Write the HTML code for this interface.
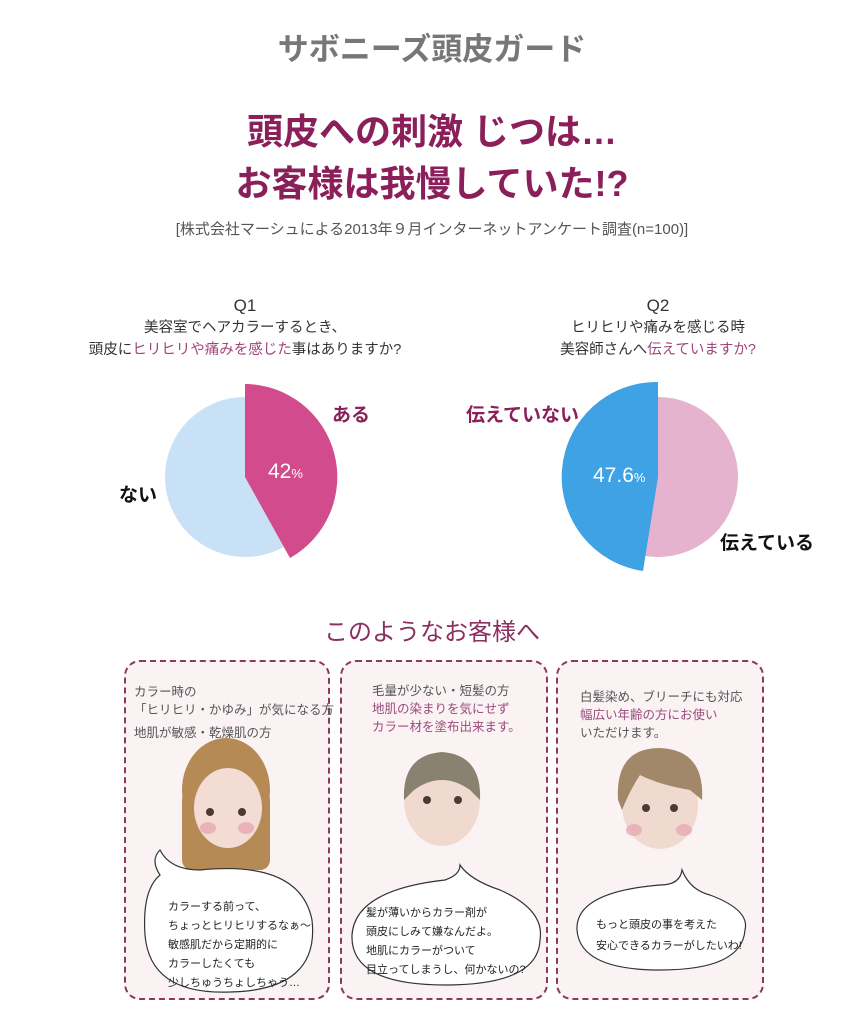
<!DOCTYPE html>
<html><head><meta charset="utf-8"><style>
body{margin:0;width:864px;height:1024px;background:#fff;position:relative;overflow:hidden;font-family:"Liberation Sans","Noto Sans CJK JP",sans-serif;}
.t{position:absolute;white-space:nowrap;}
.c{left:0;width:864px;text-align:center;}
.m{color:#8a1f5a}
.card{position:absolute;top:660px;height:340px;background:#fbf2f4;border:2px dashed #8a3a5e;border-radius:16px;box-sizing:border-box;}
.ct{position:absolute;font-size:12.5px;line-height:19px;color:#555;}
.hb{position:absolute;font-size:12px;line-height:23px;color:#222;font-family:"Liberation Sans","WenQuanYi Zen Hei",sans-serif;}
</style></head><body>
<div class="card" style="left:124px;width:206px"></div>
<div class="card" style="left:340px;width:208px"></div>
<div class="card" style="left:556px;width:208px"></div>

<div class="t c" style="top:24px;font-size:31px;font-weight:bold;color:#777">サボニーズ頭皮ガード</div>
<div class="t c m" style="top:106px;font-size:36px;font-weight:bold;line-height:52px">頭皮への刺激 じつは…<br>お客様は我慢していた!?</div>
<div class="t c" style="top:218px;font-size:15px;color:#555">[株式会社マーシュによる2013年９月インターネットアンケート調査(n=100)]</div>

<div class="t" style="left:145px;width:200px;text-align:center;top:296px;font-size:17px;color:#333">Q1</div>
<div class="t" style="left:45px;width:400px;text-align:center;top:317px;font-size:14.5px;line-height:22px;color:#333">美容室でヘアカラーするとき、<br>頭皮に<span style="color:#a0457a">ヒリヒリや痛みを感じた</span>事はありますか?</div>
<div class="t" style="left:558px;width:200px;text-align:center;top:296px;font-size:17px;color:#333">Q2</div>
<div class="t" style="left:458px;width:400px;text-align:center;top:317px;font-size:14.5px;line-height:22px;color:#333">ヒリヒリや痛みを感じる時<br>美容師さんへ<span style="color:#a0457a">伝えていますか?</span></div>

<svg width="864" height="1024" style="position:absolute;left:0;top:0">
<circle cx="245" cy="477" r="80" fill="#c9e1f6"/>
<path d="M245,477 L245,384 A93,93 0 0 1 290,558 Z" fill="#d24b8d"/>
<circle cx="658" cy="477" r="80" fill="#e5b3cd"/>
<path d="M658,477 L658,382 A95,95 0 0 0 643,571 Z" fill="#3ea2e4"/>
<g>
<ellipse cx="226" cy="790" rx="44" ry="52" fill="#b58a55"/>
<rect x="182" y="790" width="88" height="80" rx="10" fill="#b58a55"/>
<ellipse cx="228" cy="808" rx="34" ry="40" fill="#f3dcd3"/>
<ellipse cx="442" cy="800" rx="38" ry="46" fill="#f0dad0"/>
<path d="M404,800 Q402,755 442,752 Q482,755 480,800 L470,790 Q442,770 414,790 Z" fill="#8a8270"/>
<ellipse cx="660" cy="805" rx="38" ry="44" fill="#f0dad0"/>
<path d="M618,800 Q615,748 660,748 Q705,750 702,800 L690,790 Q660,785 640,775 Q630,790 622,810 Z" fill="#a08868"/>
<g fill="#4a3a35"><circle cx="210" cy="812" r="4"/><circle cx="242" cy="812" r="4"/><circle cx="427" cy="800" r="4"/><circle cx="458" cy="800" r="4"/><circle cx="646" cy="808" r="4"/><circle cx="674" cy="808" r="4"/></g>
<g fill="#e9a9b4" opacity="0.8"><ellipse cx="208" cy="828" rx="8" ry="6"/><ellipse cx="246" cy="828" rx="8" ry="6"/><ellipse cx="634" cy="830" rx="8" ry="6"/><ellipse cx="684" cy="830" rx="8" ry="6"/></g>
</g>
<g fill="#fff" stroke="#333" stroke-width="1.2">
<path d="M160,875 Q150,860 160,850 Q170,870 200,870 Q300,860 312,920 Q320,990 230,992 Q150,995 145,935 Q142,890 160,875Z"/>
<path d="M445,880 Q460,875 460,865 Q470,880 500,890 Q545,910 540,940 Q538,985 445,985 Q350,985 352,935 Q355,890 445,880Z"/>
<path d="M660,885 Q680,885 682,870 Q690,890 710,895 Q750,910 745,930 Q742,970 660,970 Q580,970 577,930 Q575,892 660,885Z"/>
</g>
</svg>

<div class="t m" style="left:332px;top:400px;font-size:19px;font-weight:bold">ある</div>
<div class="t" style="left:119px;top:480px;font-size:19px;font-weight:bold;color:#111">ない</div>
<div class="t" style="left:268px;top:460px;font-size:21px;color:#fff">42<span style="font-size:13px">%</span></div>
<div class="t m" style="left:466px;top:400px;font-size:19px;font-weight:bold">伝えていない</div>
<div class="t" style="left:720px;top:528px;font-size:19px;font-weight:bold;color:#111">伝えている</div>
<div class="t" style="left:593px;top:464px;font-size:21px;color:#fff">47.6<span style="font-size:13px">%</span></div>

<div class="t c" style="top:612px;font-size:24px;color:#8a2f60">このようなお客様へ</div>

<div class="ct" style="left:134px;top:683px;line-height:18px">カラー時の<br>「ヒリヒリ・かゆみ」が気になる方<br><span style="line-height:28px">地肌が敏感・乾燥肌の方</span></div>
<div class="ct" style="left:372px;top:682px;line-height:18px">毛量が少ない・短髪の方<br><span style="color:#9a4a7a">地肌の染まりを気にせず<br>カラー材を塗布出来ます。</span></div>
<div class="ct" style="left:580px;top:688px;line-height:18px">白髪染め、ブリーチにも対応<br><span style="color:#9a4a7a">幅広い年齢の方にお使い</span><br>いただけます。</div>
<div class="hb" style="left:168px;top:898px;font-size:11px;line-height:19px">カラーする前って、<br>ちょっとヒリヒリするなぁ〜<br>敏感肌だから定期的に<br>カラーしたくても<br>少しちゅうちょしちゃう…</div>
<div class="hb" style="left:366px;top:904px;font-size:11px;line-height:19px">髪が薄いからカラー剤が<br>頭皮にしみて嫌なんだよ。<br>地肌にカラーがついて<br>目立ってしまうし、何かないの?</div>
<div class="hb" style="left:596px;top:915px;font-size:11px;line-height:21px">もっと頭皮の事を考えた<br>安心できるカラーがしたいわ!</div>
</body></html>
